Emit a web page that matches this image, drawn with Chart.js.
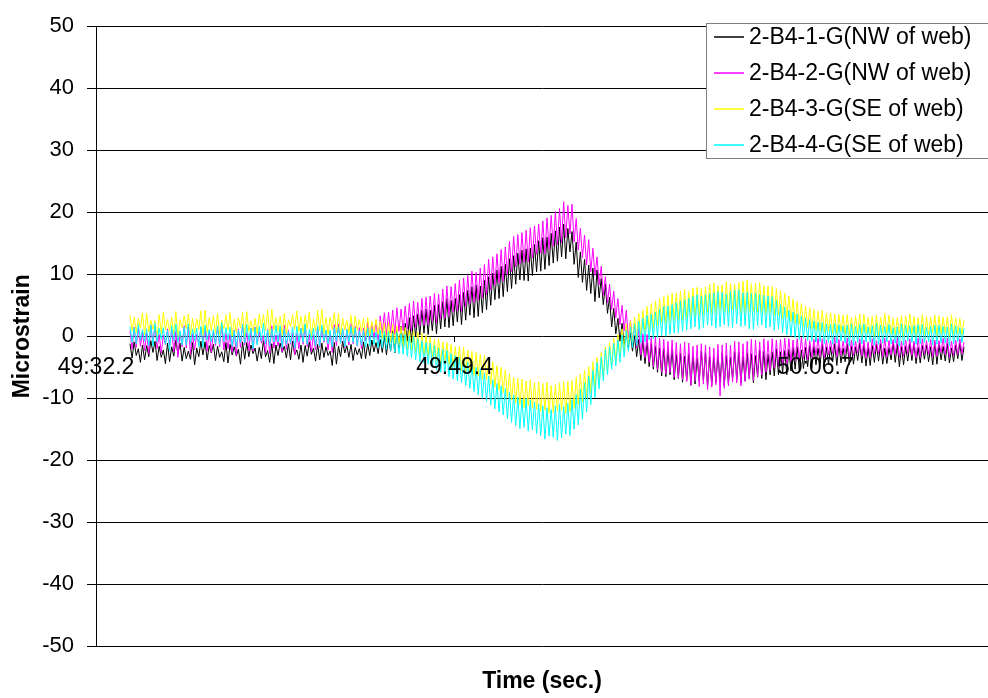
<!DOCTYPE html>
<html lang="en">
<head>
<meta charset="UTF-8">
<title>Microstrain vs Time</title>
<script src="https://cdn.jsdelivr.net/npm/chart.js"></script>
<style>
    html, body { margin: 0; padding: 0; background: #fff; overflow: hidden; }
    #chart-box { width: 988px; height: 698px; }
</style>
</head>
<body>
<div id="chart-box"><canvas id="strainChart" width="988" height="698"></canvas></div>
<script>
// gauge names and colours, same order as the original legend
const gaugeNames = ['2-B4-1-G(NW of web)', '2-B4-2-G(NW of web)', '2-B4-3-G(SE of web)', '2-B4-4-G(SE of web)'];
const gaugeColors = ['#000000', '#ff00ff', '#ffff00', '#00ffff'];

// sample times in seconds after 49:32.2
const startSec = 1.63;
const stepSec = 0.1;

// x tick positions (seconds) and their clock labels
const tickSecs = [0, 17.2, 34.5];
const tickLabels = ['49:32.2', '49:49.4', '50:06.7'];

// microstrain readings
const strain1 = [
  -1.2,-3.5,-0.9,-3.1,-2.0,-4.2,-1.4,-3.8,-1.5,-3.3,-0.7,-2.6,-0.8,-3.9,-1.6,-3.4,-2.2,-4.4,-1.1,-4.1,
  -1.7,-3.2,-0.6,-2.9,-1.1,-4.0,-1.8,-3.6,-2.4,-3.7,-1.0,-4.6,-1.9,-3.3,-0.8,-3.0,-0.9,-3.8,-1.5,-2.7,
  -1.3,-3.9,-1.6,-3.4,-2.5,-4.1,-1.0,-4.3,-1.3,-3.0,-1.7,-3.2,-2.1,-4.5,-0.9,-3.7,-1.0,-3.3,-1.4,-2.8,
  -1.9,-4.0,-1.8,-3.6,-0.7,-3.3,-2.3,-4.2,-1.2,-4.4,-1.4,-3.1,-1.1,-2.6,-1.6,-3.5,-1.2,-3.8,-0.8,-3.0,
  -2.2,-3.7,-1.4,-4.2,-1.5,-3.2,-0.9,-2.9,-1.9,-4.0,-1.3,-3.8,-1.1,-3.4,-1.7,-3.1,-2.4,-4.7,-1.0,-4.5,
  -1.6,-3.3,-0.8,-2.7,-1.5,-3.4,-1.3,-3.9,-1.8,-3.0,-2.0,-3.6,-0.9,-3.6,-1.2,-3.1,-0.6,-2.5,-1.0,-2.8,
  -0.5,-2.6,0.2,-3.0,-0.2,-2.4,0.9,-2.7,1.0,-1.9,1.6,-1.8,2.1,-0.8,3.0,-1.0,3.3,-0.1,3.6,0.2,
  4.2,0.5,4.4,0.3,4.2,0.9,5.0,0.4,5.1,1.2,5.6,1.5,6.1,1.4,5.8,1.7,6.1,2.3,6.7,1.9,
  7.1,2.6,7.4,3.4,8.0,3.0,8.3,3.2,8.1,3.8,9.0,4.3,9.6,5.0,10.2,5.9,10.7,6.1,11.3,6.4,
  11.6,7.2,12.5,7.7,13.0,8.4,13.4,9.1,13.9,9.0,14.1,8.9,14.2,9.8,14.8,10.4,15.4,10.5,15.9,10.8,
  16.0,11.4,16.6,11.8,17.0,12.1,17.6,12.8,18.1,12.5,17.4,13.6,16.9,11.6,15.2,9.5,13.6,8.7,12.4,7.4,
  11.5,6.9,11.0,5.6,10.7,6.2,9.3,5.1,8.4,3.7,6.3,1.5,4.5,0.4,2.9,-0.8,2.1,-1.6,1.0,-1.9,
  0.6,-2.4,0.1,-3.3,-0.5,-3.9,-0.6,-4.4,-0.9,-4.9,-1.2,-5.3,-1.6,-5.8,-1.9,-6.4,-2.0,-6.5,-2.3,-6.2,
  -2.1,-7.0,-2.9,-6.8,-2.7,-7.4,-3.2,-7.1,-2.8,-7.9,-3.0,-7.7,-3.5,-7.2,-2.4,-7.1,-2.6,-8.2,-3.3,-7.9,
  -3.4,-7.4,-2.9,-7.5,-2.7,-8.0,-3.1,-7.7,-3.4,-6.9,-2.5,-7.0,-2.6,-7.6,-3.2,-7.2,-2.7,-6.8,-2.8,-7.5,
  -3.1,-6.6,-2.2,-6.8,-2.4,-7.0,-2.9,-6.2,-2.5,-6.4,-2.0,-6.2,-2.5,-5.8,-2.3,-6.2,-2.1,-5.6,-1.8,-5.3,
  -1.7,-5.5,-2.2,-5.2,-1.8,-4.9,-1.5,-5.2,-1.6,-4.6,-1.9,-4.4,-1.3,-4.8,-1.8,-4.5,-1.7,-4.1,-1.2,-4.7,
  -1.3,-4.3,-1.9,-4.1,-1.2,-4.6,-1.6,-4.5,-1.7,-3.9,-1.1,-4.3,-1.4,-4.8,-1.8,-4.7,-1.5,-4.2,-1.3,-4.0,
  -1.2,-4.5,-1.9,-4.4,-1.8,-3.8,-1.0,-4.2,-1.3,-4.9,-1.7,-4.6,-1.6,-4.0,-1.2,-3.9,-1.1,-4.4,-1.8,-4.3,
  -1.5,-3.7,-1.4,-4.1,-1.7,-4.6,-1.0,-4.5,-1.4,-3.8,-1.6,-4.0,-1.2,-4.3,-1.9,-4.1,-1.4,-3.6,-1.1,-3.9,
  -1.7
];
const strain2 = [
  0.9,-2.1,1.5,-1.8,1.4,-1.6,0.6,-2.3,0.5,-2.8,1.9,-1.2,1.8,-2.0,0.3,-2.7,0.2,-1.4,1.2,-1.5,
  1.1,-2.5,0.8,-3.4,0.7,-1.7,1.7,-1.9,1.6,-2.9,0.4,-2.2,0.3,-1.3,1.4,-1.0,1.3,-2.4,0.9,-2.6,
  0.8,-1.5,1.6,-1.7,1.9,-2.2,0.5,-2.0,0.4,-2.6,1.0,-3.1,1.2,-1.8,2.0,-1.4,0.6,-2.3,1.3,-2.4,
  1.5,-1.2,0.7,-1.1,0.1,-2.7,1.1,-2.8,1.7,-1.9,0.2,-1.6,0.9,-2.5,1.8,-2.1,1.0,-1.3,0.6,-3.0,
  0.5,-2.0,1.3,-1.3,1.8,-1.7,0.3,-2.5,0.2,-2.2,1.5,-1.8,1.4,-1.0,0.9,-2.2,0.7,-2.6,1.9,-1.5,
  2.0,-1.1,1.2,-1.9,1.1,-1.4,2.1,-1.2,1.6,-1.6,1.4,-2.0,1.3,-0.7,2.3,-0.9,2.2,-0.4,2.6,-1.1,
  3.3,0.4,3.8,0.1,3.9,0.6,4.2,0.3,4.6,0.8,4.4,0.9,4.9,1.2,5.3,0.9,5.7,1.4,5.5,1.7,
  6.1,1.8,6.3,1.9,6.5,2.4,6.9,2.1,6.8,2.8,7.6,2.9,8.1,3.2,8.0,3.9,8.5,4.1,9.1,4.0,
  9.4,4.8,9.8,5.3,10.5,5.4,10.3,5.8,11.0,6.2,11.6,6.7,12.4,7.5,12.8,8.2,13.3,8.6,14.0,8.9,
  14.4,9.9,15.3,10.4,16.1,11.2,16.4,11.6,16.7,11.9,17.1,12.0,17.5,12.6,17.8,13.2,18.1,13.4,18.6,13.3,
  19.1,14.0,19.5,14.5,20.1,14.8,20.6,15.1,21.7,15.9,21.1,16.5,21.3,15.2,19.0,13.9,17.4,12.7,16.3,11.5,
  15.6,10.4,14.2,9.8,12.8,8.3,11.3,6.6,9.6,5.4,8.4,4.3,7.3,3.0,6.1,1.9,5.0,0.9,4.2,-0.3,
  2.6,-0.7,1.8,-1.9,1.2,-3.0,0.4,-3.5,0.3,-4.2,-0.2,-4.9,-0.1,-5.4,-0.3,-5.8,-0.5,-6.1,-0.8,-5.8,
  -0.6,-6.6,-1.0,-6.7,-1.2,-7.0,-0.9,-7.3,-1.1,-7.9,-1.6,-7.2,-1.4,-8.1,-1.2,-7.7,-1.4,-8.6,-1.7,-8.2,
  -1.9,-7.8,-1.3,-9.6,-1.4,-8.4,-1.1,-8.0,-1.4,-7.4,-0.8,-7.5,-0.9,-8.0,-1.2,-7.3,-0.8,-6.9,-0.5,-7.1,
  -0.6,-6.5,-0.9,-6.2,-0.4,-5.8,-0.7,-5.5,-0.4,-5.1,-0.6,-4.9,-0.5,-4.7,-0.3,-4.4,-0.4,-4.1,-0.6,-3.9,
  -0.4,-3.7,-0.2,-3.6,-0.4,-3.8,-0.7,-3.4,-0.5,-3.1,-0.3,-3.3,-0.4,-3.5,-0.6,-3.0,-0.7,-2.8,-0.2,-3.3,
  -0.5,-3.1,-0.8,-2.9,-0.3,-3.4,-0.6,-3.1,-0.8,-2.7,-0.4,-3.2,-0.6,-3.5,-0.9,-3.4,-0.4,-2.9,-0.7,-2.8,
  -0.5,-3.3,-0.3,-3.3,-0.7,-3.0,-0.5,-3.0,-0.2,-3.4,-0.8,-3.2,-0.6,-2.8,-0.4,-3.1,-0.8,-3.5,-0.3,-3.4,
  -0.4,-2.9,-0.7,-2.9,-0.5,-3.3,-0.6,-3.2,-0.7,-2.7,-0.3,-3.0,-0.3,-3.4,-0.8,-3.1,-0.6,-2.9,-0.4,-2.8,
  -0.9
];
const strain3 = [
  3.4,0.9,3.1,0.6,2.9,1.3,3.8,0.2,3.7,0.7,2.6,1.1,2.5,-0.1,3.5,0.4,3.9,1.0,2.7,0.8,
  3.1,0.3,4.0,-0.3,2.7,1.4,3.3,1.2,3.6,0.2,2.9,0.5,2.8,1.1,4.1,0.1,4.2,0.6,3.0,0.9,
  3.3,0.5,3.7,0.3,2.6,1.2,3.4,1.0,3.8,0.0,2.8,0.6,3.0,1.3,3.9,-0.2,4.0,0.8,2.5,0.7,
  2.9,0.4,3.6,1.3,3.5,0.9,4.3,0.2,4.4,1.0,3.0,0.8,3.2,0.1,3.7,0.4,2.7,1.5,3.5,1.1,
  4.1,0.7,3.2,0.5,3.4,1.2,3.9,0.0,2.8,0.8,4.2,0.9,4.3,0.4,3.0,0.3,3.1,1.1,3.8,0.6,
  3.7,0.2,2.9,1.0,2.6,0.5,3.4,0.2,3.3,0.9,2.7,0.7,2.9,0.0,3.1,0.1,2.4,0.6,2.8,0.3,
  2.4,-0.4,2.1,-0.9,2.2,-1.0,1.9,-1.2,1.7,-1.5,1.5,-1.8,1.4,-2.0,1.0,-2.2,0.9,-2.6,0.7,-2.9,
  0.5,-3.1,0.2,-3.3,-0.1,-3.7,-0.5,-4.0,-0.4,-4.4,-0.9,-4.2,-1.0,-4.6,-1.3,-4.9,-1.7,-5.1,-1.6,-5.6,
  -1.8,-5.9,-2.2,-5.8,-2.4,-6.3,-2.6,-6.4,-2.9,-6.9,-3.1,-7.0,-3.5,-7.8,-4.1,-8.2,-4.7,-8.7,-5.0,-9.1,
  -5.4,-9.8,-6.0,-10.3,-6.6,-10.8,-6.8,-11.1,-6.9,-11.5,-7.2,-11.2,-7.0,-11.6,-7.4,-11.8,-7.3,-12.1,-7.6,-11.9,
  -7.4,-12.4,-7.9,-12.3,-7.8,-12.0,-7.5,-12.0,-7.3,-12.5,-7.2,-12.2,-7.1,-11.6,-6.6,-11.0,-6.1,-10.6,-5.5,-9.9,
  -4.9,-9.1,-4.1,-8.4,-3.4,-7.6,-2.6,-6.7,-1.7,-5.7,-1.0,-4.8,-0.3,-4.1,0.3,-3.4,1.2,-2.4,2.0,-1.4,
  2.5,-1.0,3.1,-0.5,3.7,0.0,4.2,0.6,4.8,0.9,5.3,1.3,5.7,1.8,6.1,2.2,6.4,2.0,6.6,2.4,
  6.9,2.5,7.0,2.7,7.3,2.6,7.6,2.9,7.2,3.2,7.8,3.0,7.9,3.3,7.7,3.5,8.0,3.9,8.4,3.6,
  8.6,3.7,8.2,4.1,8.3,3.9,8.8,3.8,8.6,4.3,8.4,4.2,8.7,3.6,8.9,3.7,9.1,4.0,8.5,4.1,
  8.5,3.9,8.7,3.8,8.2,3.5,8.1,3.7,8.0,3.3,7.7,3.4,7.4,2.9,7.0,3.0,6.5,2.4,6.0,2.1,
  5.6,1.9,5.3,1.6,4.9,1.4,4.6,1.2,4.3,0.9,4.0,0.8,4.2,0.6,3.7,0.8,3.8,0.5,3.6,0.4,
  3.5,0.7,3.4,0.3,3.5,0.2,3.1,0.3,3.3,0.5,3.6,0.2,3.5,0.4,3.0,0.4,3.2,0.0,3.4,0.1,
  3.1,0.6,3.7,0.5,3.4,0.3,2.9,0.2,3.0,0.4,3.3,0.0,3.3,0.5,3.6,0.3,3.2,0.1,3.0,0.4,
  3.5,0.2,3.2,0.2,3.1,0.6,3.4,0.1,3.3,0.3,3.1,0.5,3.2,0.0,3.5,0.3,3.0,0.4,2.9,0.2,
  2.6
];
const strain4 = [
  1.6,-1.0,1.4,-1.2,1.9,-0.6,1.1,-0.8,1.2,-1.5,1.8,-1.6,2.1,-0.9,1.3,-0.5,1.4,-1.3,1.0,-2.4,
  1.7,-0.7,2.0,-1.0,0.9,-1.4,1.5,-1.4,2.0,-1.1,1.2,-0.7,1.3,-1.7,1.6,-1.8,1.8,-0.6,1.1,-0.9,
  1.1,-1.2,1.7,-1.3,2.2,-0.8,1.4,-0.6,1.5,-1.6,0.9,-1.7,1.0,-1.0,1.9,-1.1,1.9,-0.7,1.3,-2.0,
  1.4,-1.4,1.6,-0.8,2.1,-1.2,1.0,-1.5,1.2,-0.9,1.8,-0.9,1.7,-1.8,1.2,-1.3,0.8,-1.1,1.5,-1.9,
  1.6,-0.9,1.3,-1.0,2.0,-1.3,1.1,-0.6,1.3,-1.5,1.7,-1.6,1.8,-0.8,1.0,-1.2,1.0,-1.7,1.4,-0.8,
  1.5,-1.1,1.2,-1.7,1.1,-0.9,1.6,-1.0,1.4,-1.5,0.9,-1.4,0.9,-1.8,1.3,-1.6,1.2,-1.3,0.7,-1.8,
  1.0,-1.9,0.8,-2.1,0.8,-2.3,0.5,-2.6,0.6,-2.8,0.4,-2.9,0.3,-3.2,0.1,-3.5,0.0,-3.8,-0.4,-4.1,
  -0.7,-4.3,-1.0,-4.5,-1.1,-5.0,-1.5,-5.4,-1.9,-5.8,-2.1,-6.0,-2.3,-6.5,-2.8,-6.9,-3.1,-7.2,-3.4,-7.5,
  -3.7,-8.0,-4.2,-8.4,-4.6,-8.9,-5.0,-9.4,-5.3,-10.0,-5.9,-10.5,-6.4,-11.1,-7.0,-11.7,-7.6,-12.2,-8.0,-12.7,
  -8.4,-13.3,-9.0,-13.9,-9.5,-14.4,-9.8,-14.9,-10.2,-14.7,-10.0,-15.3,-10.3,-15.1,-10.6,-15.7,-10.9,-16.0,-11.2,-16.6,
  -11.5,-16.1,-11.8,-16.3,-11.2,-16.8,-11.0,-16.4,-11.3,-15.8,-10.8,-16.0,-10.2,-15.0,-9.4,-14.3,-8.5,-13.4,-7.5,-12.2,
  -6.4,-11.0,-5.5,-9.9,-4.2,-8.5,-3.3,-7.2,-2.1,-6.2,-1.7,-5.3,-1.1,-4.8,-0.6,-4.2,0.2,-3.3,0.9,-2.4,
  1.5,-1.8,2.0,-1.5,2.4,-1.1,2.9,-0.9,3.4,-0.6,3.6,-0.4,3.9,-0.2,4.4,0.1,4.8,0.0,4.9,0.3,
  5.1,0.5,5.4,0.6,5.7,0.8,5.9,1.0,6.1,1.2,6.4,1.5,6.7,1.1,6.5,1.4,6.7,1.8,6.9,1.7,
  7.0,1.3,7.2,1.5,7.1,1.9,6.8,1.6,7.2,1.4,7.4,2.0,7.5,1.6,7.0,1.7,7.1,1.2,6.9,1.1,
  7.0,1.7,6.7,1.8,6.6,1.3,6.5,1.5,6.4,1.0,5.8,1.2,5.1,0.6,4.7,0.2,4.2,0.0,3.9,-0.2,
  3.6,-0.5,3.3,-0.3,3.0,-0.7,2.7,-0.8,2.5,-0.9,2.3,-0.9,2.2,-1.2,2.0,-1.0,1.9,-1.3,2.1,-1.1,
  1.9,-0.8,1.7,-1.1,1.8,-1.5,2.0,-1.4,1.6,-1.0,1.9,-1.2,2.0,-0.9,1.5,-1.0,1.7,-1.4,2.1,-1.3,
  1.8,-1.1,1.6,-0.9,1.9,-1.2,1.4,-1.1,1.5,-1.6,2.0,-1.4,1.8,-0.8,1.7,-1.0,1.7,-1.3,1.9,-1.2,
  1.9,-1.0,1.5,-0.9,1.6,-1.4,1.8,-1.3,1.8,-1.1,1.6,-1.1,1.5,-1.5,2.0,-1.2,1.7,-0.9,1.4,-1.0,
  1.3
];

const fontFamily = "Arial, 'Liberation Sans', sans-serif";
const xMaxSec = 42.78;

function toPoints(values) {
    return values.map((v, i) => ({ x: startSec + i * stepSec, y: v }));
}

// boxed legend in the upper right, drawn over the grid like the original
const boxLegend = {
    id: 'boxLegend',
    afterDraw(chart) {
        const ctx = chart.ctx;
        ctx.save();
        ctx.fillStyle = '#ffffff';
        ctx.fillRect(706, 23, 320, 135);
        ctx.strokeStyle = '#7f7f7f';
        ctx.lineWidth = 1;
        ctx.strokeRect(706.5, 23.5, 320, 135);
        ctx.font = '23px ' + fontFamily;
        ctx.textBaseline = 'middle';
        gaugeNames.forEach((name, i) => {
            const y = 37 + i * 36;
            ctx.strokeStyle = gaugeColors[i];
            ctx.lineWidth = 1.5;
            ctx.beginPath();
            ctx.moveTo(714, y);
            ctx.lineTo(744, y);
            ctx.stroke();
            ctx.fillStyle = '#000';
            ctx.fillText(name, 749, y + 1);
        });
        ctx.restore();
    }
};

const datasets = [strain1, strain2, strain3, strain4].map((vals, i) => ({
    label: gaugeNames[i],
    data: toPoints(vals),
    borderColor: gaugeColors[i],
    backgroundColor: gaugeColors[i],
    borderWidth: 1,
    pointRadius: 0,
    fill: false,
    tension: 0,
    order: 4 - i   // later gauges on top, as in the source chart
}));

new Chart(document.getElementById('strainChart'), {
    type: 'line',
    data: { datasets },
    plugins: [boxLegend],
    options: {
        responsive: false,
        animation: false,
        devicePixelRatio: 1,
        layout: { padding: { left: 6, top: 3, right: 0, bottom: 3 } },
        plugins: {
            legend: { display: false },
            tooltip: { enabled: false }
        },
        scales: {
            x: {
                type: 'linear',
                position: { y: 0 },
                min: 0,
                max: xMaxSec,
                afterBuildTicks: s => { s.ticks = tickSecs.map(v => ({ value: v })); },
                ticks: {
                    callback: v => tickLabels[tickSecs.indexOf(v)],
                    font: { family: fontFamily, size: 23 },
                    color: '#000',
                    padding: 12,
                    maxRotation: 0,
                    autoSkip: false,
                    z: 1   // labels sit on top of the traces
                },
                grid: { drawOnChartArea: false, tickLength: 6, color: '#000' },
                border: { display: false }
            },
            xb: {
                type: 'linear',
                position: 'bottom',
                min: 0,
                max: xMaxSec,
                ticks: { display: false },
                grid: { display: false, drawTicks: false },
                border: { display: false },
                title: {
                    display: true,
                    text: 'Time (sec.)',
                    font: { family: fontFamily, size: 23, weight: 'bold' },
                    color: '#000',
                    padding: { top: 21, bottom: 0 }
                }
            },
            y: {
                min: -50,
                max: 50,
                afterFit: s => { s.width = 90; },
                ticks: {
                    stepSize: 10,
                    font: { family: fontFamily, size: 22 },
                    color: '#000',
                    padding: 13
                },
                grid: { color: '#000', lineWidth: 1, tickLength: 9 },
                border: { color: '#000' },
                title: {
                    display: true,
                    text: 'Microstrain',
                    font: { family: fontFamily, size: 23, weight: 'bold' },
                    color: '#000',
                    padding: { top: 3, bottom: 0 }
                }
            }
        }
    }
});
</script>
</body>
</html>
